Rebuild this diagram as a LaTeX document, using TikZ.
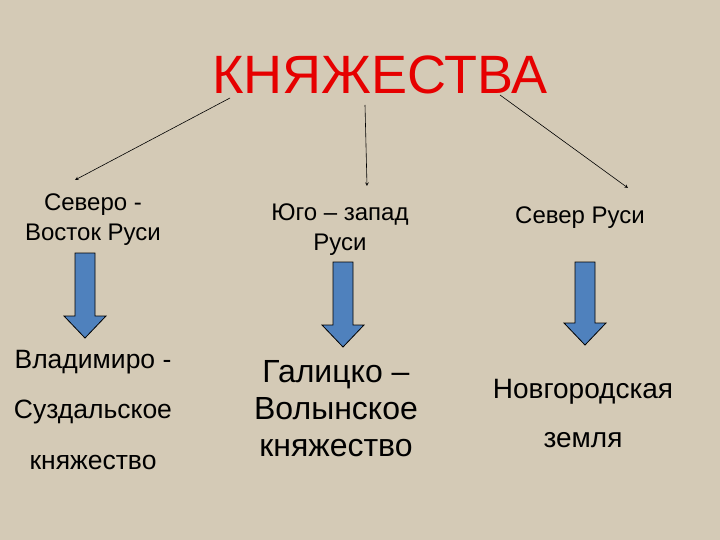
\documentclass[tikz,border=0pt]{standalone}
\usepackage{fontspec}
\setmainfont{Liberation Sans}
\definecolor{bg}{RGB}{212,202,182}
\definecolor{blu}{RGB}{79,129,189}
\definecolor{ttl}{RGB}{230,0,0}
\begin{document}
\begin{tikzpicture}[x=1pt,y=-1pt,
  txt/.style={align=center,text=black},
  blk/.style={fill=blu,draw=black,line width=0.8pt},
  con/.style={draw=black,-stealth,line width=0.6pt}]
\fill[bg] (0,0) rectangle (720,540);
\node[align=center,text=ttl,font=\fontsize{54}{60}\selectfont] (t) at (380,75) {КНЯЖЕСТВА};
\node[txt,font=\fontsize{24}{30}\selectfont] (a1) at (93,220) {Северо -\\Восток Руси};
\node[txt,font=\fontsize{24}{30}\selectfont] (a2) at (340,230) {Юго – запад\\Руси};
\node[txt,font=\fontsize{24}{30}\selectfont] (a3) at (580,218) {Север Руси};
\coordinate (e1) at (75,180);\coordinate (e2) at (367,186);\coordinate (e3) at (628,188);
\coordinate (s1) at (230,98);\coordinate (s2) at (365,105);\coordinate (s3) at (500,95);
\draw[con] (s1)--(e1);\draw[con] (s2)--(e2);\draw[con] (s3)--(e3);
\foreach \cx/\tp/\tip [count=\i] in {85/253/338, 343/262/347, 585/262/345}{
  \draw[blk] (\cx-10,\tp)--(\cx+10,\tp)--(\cx+10,\tip-22)--(\cx+21,\tip-22)--(\cx,\tip)--(\cx-21,\tip-22)--(\cx-10,\tip-22)--cycle;
}
\node[txt,font=\fontsize{26.5}{30}\selectfont] (b1) at (93,362) {Владимиро -};
\node[txt,font=\fontsize{26.5}{30}\selectfont] (b2) at (93,412) {Суздальское};
\node[txt,font=\fontsize{26.5}{30}\selectfont] (b3) at (93,462) {княжество};
\node[txt,font=\fontsize{32}{37}\selectfont] (c) at (336,409) {Галицко –\\Волынское\\княжество};
\node[txt,font=\fontsize{28}{32}\selectfont] (d1) at (583,392) {Новгородская};
\node[txt,font=\fontsize{28}{32}\selectfont] (d2) at (583,440) {земля};
\end{tikzpicture}
\end{document}
